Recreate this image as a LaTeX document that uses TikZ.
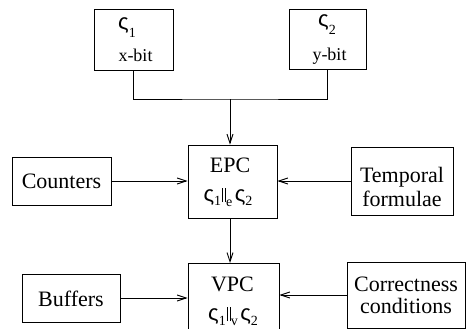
\documentclass[tikz,border=0pt]{standalone}
\usepackage{fontspec}
\setmainfont{Liberation Serif}
\newfontfamily\grk{Liberation Sans}
\usetikzlibrary{arrows.meta}
% process symbol, index lowered by #1
\newcommand\proc[2]{{\grk ς}\raisebox{-#1}{\fontsize{14}{14}\selectfont #2}}
% parallel-composition bars with a lowered kind index
\newcommand\pll[1]{\kern1.2pt\rule[-1pt]{0.9pt}{14pt}\kern2pt\rule[-1pt]{0.9pt}{14pt}\raisebox{-5pt}{\fontsize{14}{14}\selectfont #1}\kern2.5pt}
\begin{document}
\begin{tikzpicture}[x=1pt,y=-1pt,
  box/.style={draw,line width=0.9pt,inner sep=0pt},
  txt/.style={anchor=base,inner sep=0pt,font=\fontsize{22}{22}\selectfont},
  small/.style={anchor=base,inner sep=0pt,font=\fontsize{18}{18}\selectfont},
  link/.style={line width=0.9pt},
  arr/.style={line width=0.9pt,-{Straight Barb[length=9pt,width=6pt]}}]
\useasboundingbox (0,0) rectangle (466,329);
\clip (0,0) rectangle (466,329);
% leaf components
\node[box,minimum width=79pt,minimum height=61pt] (s1) at (133.5,40) {};
\node[txt] (s1a) at (127,30) {\proc{8pt}{1}};
\node[small] (s1b) at (135.5,62) {x-bit};
\node[box,minimum width=77pt,minimum height=60pt] (s2) at (327.5,39) {};
\node[txt] (s2a) at (327,27) {\proc{8pt}{2}};
\node[small] (s2b) at (329.5,60) {y-bit};
% composed processes
\node[box,minimum width=89pt,minimum height=73pt] (epc) at (232.5,181.5) {};
\node[txt] (epca) at (230,172) {EPC};
\node[txt] (epcb) at (228,201) {\proc{4pt}{1}\pll{e}\proc{4pt}{2}};
\node[box,minimum width=91pt,minimum height=74pt] (vpc) at (233.5,300) {};
\node[txt] (vpca) at (232.5,291) {VPC};
\node[txt] (vpcb) at (233,320) {\proc{5pt}{1}\pll{v}\proc{5pt}{2}};
% side inputs
\node[box,minimum width=99pt,minimum height=48pt] (cnt) at (61.5,181) {};
\node[txt] (cnta) at (61.5,188) {Counters};
\node[box,minimum width=102pt,minimum height=68pt] (tmp) at (402,181) {};
\node[txt] (tmpa) at (402,182) {Temporal};
\node[txt] (tmpb) at (402,206) {formulae};
\node[box,minimum width=98pt,minimum height=48pt] (buf) at (71,298) {};
\node[txt] (bufa) at (71,306) {Buffers};
\node[box,minimum width=118pt,minimum height=66pt] (cor) at (406,295) {};
\node[txt] (cora) at (406,291) {Correctness};
\node[txt] (corb) at (406,313) {conditions};
% connectors
\coordinate (j) at (230,99);
\coordinate (ea) at (230,218);
\coordinate (va) at (230,263);
\draw[link] (s1.south) |- (j) -| (s2.south);
\draw[arr] (j) -- (j |- epc.north);
\draw[arr] (cnt.east) -- (cnt.east -| epc.west);
\draw[arr] (tmp.west) -- (tmp.west -| epc.east);
\draw[arr] (ea) -- (va);
\draw[arr] (buf.east) -- (buf.east -| vpc.west);
\draw[arr] (cor.west) -- (cor.west -| vpc.east);
\end{tikzpicture}
\end{document}
